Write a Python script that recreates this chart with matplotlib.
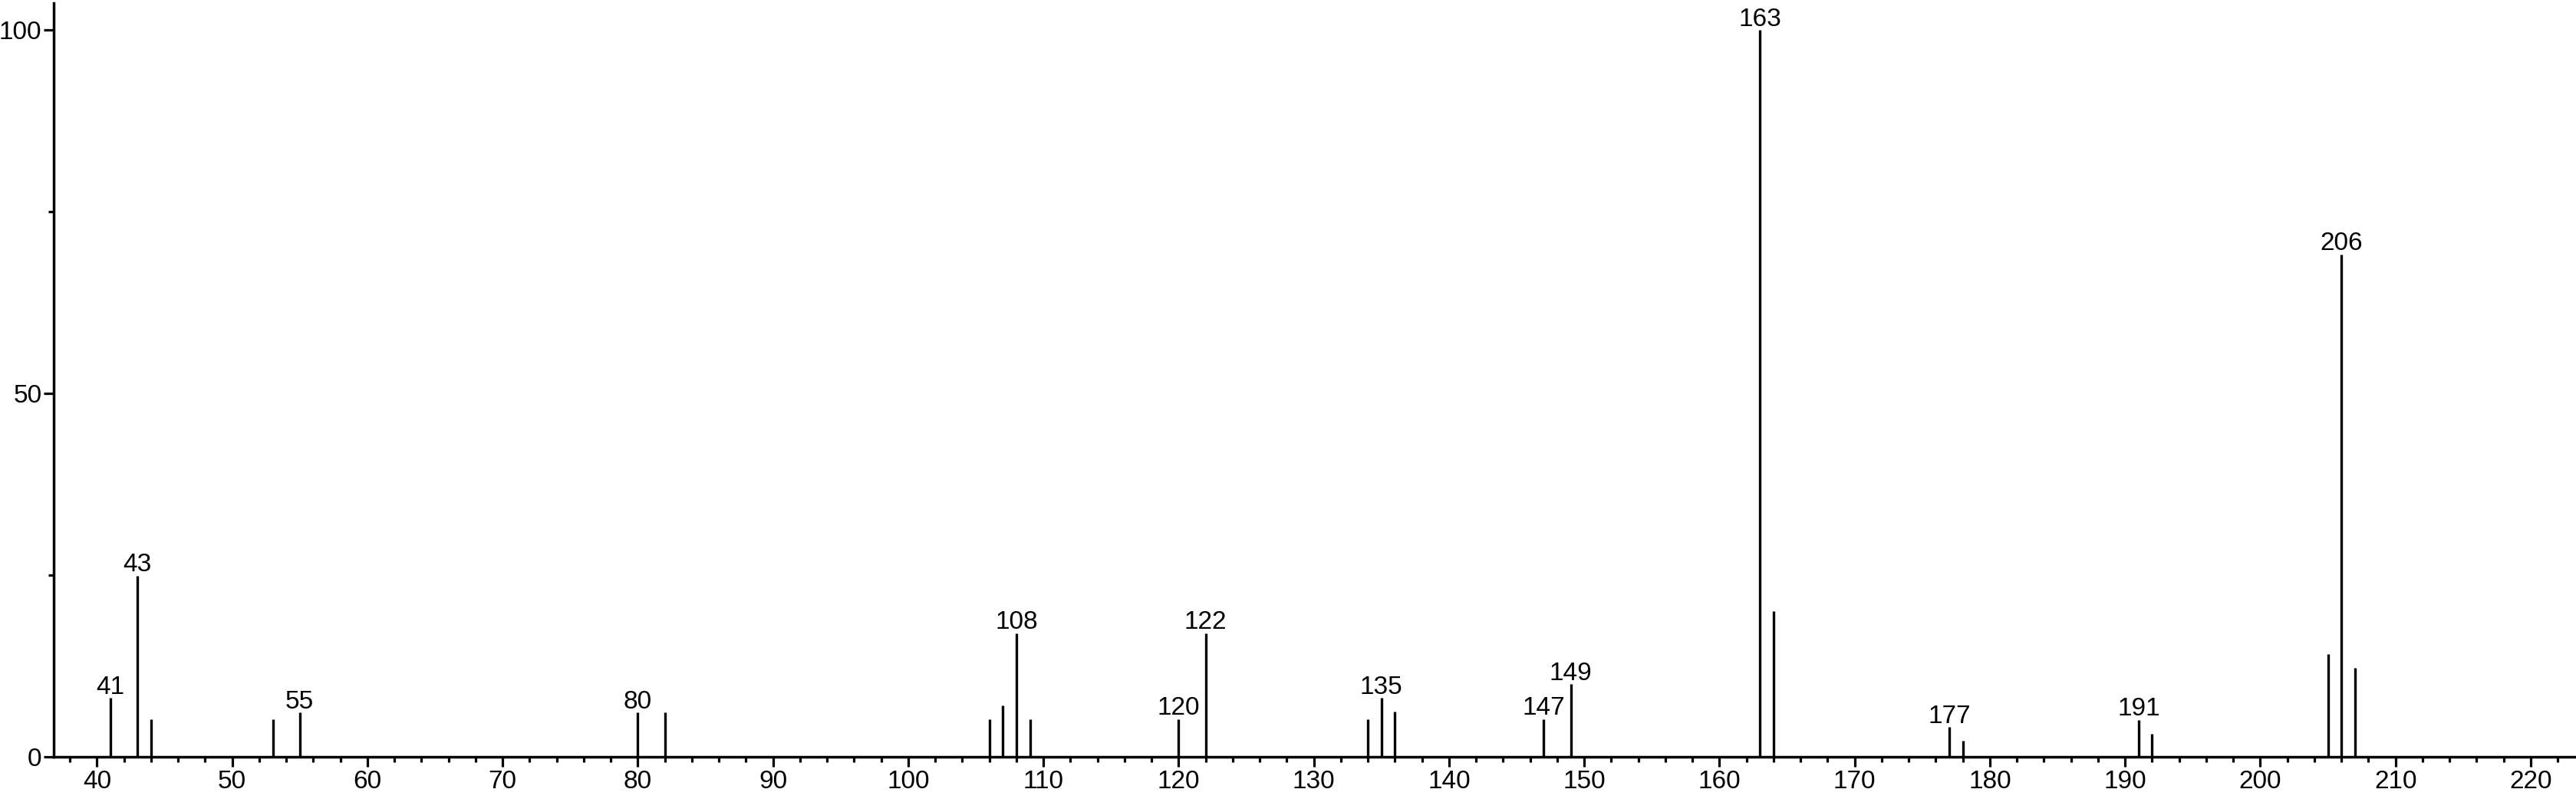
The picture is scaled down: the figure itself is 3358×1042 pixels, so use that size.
import numpy as np
import matplotlib.pyplot as plt
from matplotlib import font_manager
from matplotlib.ticker import MultipleLocator, FixedLocator

# the reference uses a narrow Helvetica-like face
names = {f.name for f in font_manager.fontManager.ttflist}
if 'Liberation Sans Narrow' in names:
    plt.rcParams['font.family'] = ['Liberation Sans Narrow', 'DejaVu Sans']
    fsize = 25
else:
    plt.rcParams['font.family'] = ['Liberation Sans', 'DejaVu Sans']
    fsize = 24

# m/z and relative intensity
mz = [41, 43, 44, 53, 55, 80, 82, 106, 107, 108, 109, 120, 122,
      134, 135, 136, 147, 149, 163, 164, 177, 178, 191, 192, 205, 206, 207]
intensity = [8.1, 24.9, 5.2, 5.2, 6.1, 6.1, 6.1, 5.2, 7.1, 17.0, 5.2, 5.2, 17.0,
             5.2, 8.1, 6.2, 5.2, 10.0, 100.0, 20.0, 4.1, 2.2, 5.1, 3.2, 14.1, 69.1, 12.2]
labeled = [41, 43, 55, 80, 108, 120, 122, 135, 147, 149, 163, 177, 191, 206]

W, H = 3358, 1042
fig = plt.figure(figsize=(W / 100, H / 100), dpi=100)
ax = fig.add_axes([70 / W, 55 / H, (W - 70) / W, 983 / H])

ax.vlines(mz, 0, intensity, color='black', linewidth=2.4)

for m, v in zip(mz, intensity):
    if m in labeled:
        ax.annotate(str(m), (m, v), xytext=(0, 4), textcoords='offset points',
                    ha='center', va='baseline', fontsize=fsize, clip_on=False)

ax.set_xlim(36.8, 223.35)
ax.set_ylim(0, 103.7)

ax.xaxis.set_major_locator(MultipleLocator(10))
ax.xaxis.set_minor_locator(MultipleLocator(2))
ax.set_xticks(np.arange(40, 221, 10))
ax.yaxis.set_major_locator(FixedLocator([0, 50, 100]))
ax.yaxis.set_minor_locator(FixedLocator([25, 75]))

for s in ['top', 'right']:
    ax.spines[s].set_visible(False)
for s in ['left', 'bottom']:
    ax.spines[s].set_linewidth(2.5)

ax.tick_params(axis='both', which='major', length=9.3, width=2.3, labelsize=fsize, direction='out')
ax.tick_params(axis='both', which='minor', length=5, width=2.3, direction='out')
ax.tick_params(axis='x', which='major', pad=3)
ax.tick_params(axis='y', which='major', pad=2)

fig.savefig('out.png', dpi=100)
